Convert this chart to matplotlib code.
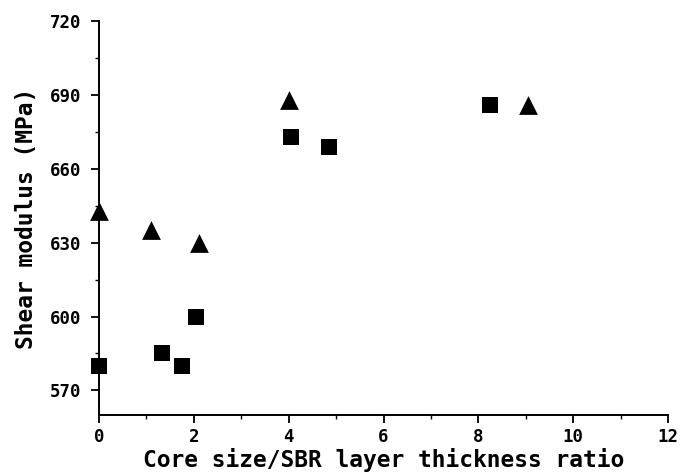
import matplotlib.pyplot as plt
from matplotlib.ticker import MultipleLocator

# dados
sq_x = [0.0, 1.33, 1.75, 2.04, 4.04, 4.86, 8.25]
sq_y = [580, 585, 580, 600, 673, 669, 686]
tri_x = [0.0, 1.09, 2.11, 4.0, 9.05]
tri_y = [643, 635, 630, 688, 686]

xlab = "Core size/SBR layer thickness ratio"
ylab = "Shear modulus (MPa)"

plt.rcParams['font.family'] = ['DejaVu Sans Mono']
plt.rcParams['font.weight'] = 'bold'

fig = plt.figure(figsize=(6.83, 4.73), dpi=100)
ax = fig.add_axes([0.145, 0.1226, 0.833, 0.833])

ax.scatter(sq_x, sq_y, marker='s', s=11.5**2, color='black', linewidths=0, clip_on=False, zorder=3)
ax.scatter(tri_x, tri_y, marker='^', s=13.5**2, color='black', linewidths=0, clip_on=False, zorder=3)

ax.set_xlim(0, 12)
ax.set_ylim(560, 720)
ax.set_yticks([570, 600, 630, 660, 690, 720])
ax.xaxis.set_major_locator(MultipleLocator(2))
ax.xaxis.set_minor_locator(MultipleLocator(1))
ax.yaxis.set_minor_locator(MultipleLocator(15))

ax.spines['top'].set_visible(False)
ax.spines['right'].set_visible(False)
ax.spines['left'].set_linewidth(1.4)
ax.spines['bottom'].set_linewidth(1.4)
ax.tick_params(which='major', direction='out', length=6, width=1.3, labelsize=12.5, pad=3)
ax.tick_params(axis='y', which='major', pad=7)
ax.tick_params(which='minor', direction='out', length=3, width=1.0)

ax.set_xlabel(xlab, fontsize=16.5, fontweight='bold', labelpad=1.5)
ax.set_ylabel(ylab, fontsize=16.5, fontweight='bold', labelpad=8)

fig.savefig('out.png', dpi=100)
